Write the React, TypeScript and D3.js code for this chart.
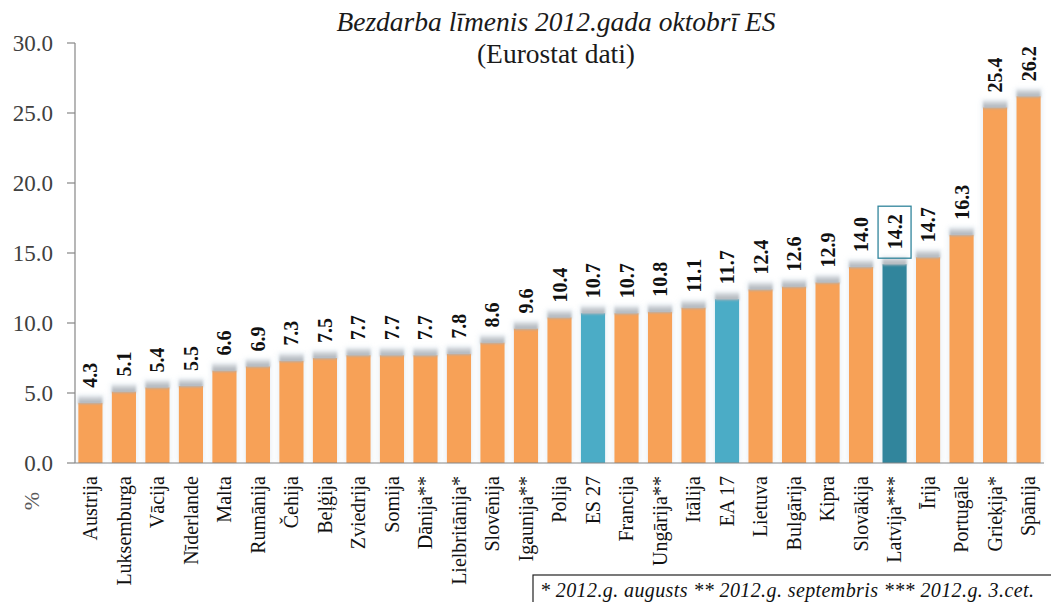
import React from "react";
import * as d3 from "d3";

const categories = [
  "Austrija", "Luksemburga", "Vācija", "Nīderlande", "Malta", "Rumānija", "Čehija",
  "Beļģija", "Zviedrija", "Somija", "Dānija**", "Lielbritānija*", "Slovēnija",
  "Igaunija**", "Polija", "ES 27", "Francija", "Ungārija**", "Itālija", "EA 17",
  "Lietuva", "Bulgārija", "Kipra", "Slovākija", "Latvija***", "Īrija", "Portugāle",
  "Grieķija*", "Spānija",
];
const values = [
  4.3, 5.1, 5.4, 5.5, 6.6, 6.9, 7.3, 7.5, 7.7, 7.7, 7.7, 7.8, 8.6, 9.6, 10.4, 10.7,
  10.7, 10.8, 11.1, 11.7, 12.4, 12.6, 12.9, 14.0, 14.2, 14.7, 16.3, 25.4, 26.2,
];
const euAggregates = ["ES 27", "EA 17"];
const highlighted = "Latvija***";
const yTicks = [0, 5, 10, 15, 20, 25, 30];
const titleLine1 = "Bezdarba līmenis 2012.gada oktobrī ES";
const titleLine2 = "(Eurostat dati)";
const footnote = "* 2012.g. augusts ** 2012.g. septembris *** 2012.g. 3.cet.";
const yUnit = "%";

const W = 1051;
const H = 602;
const FONT = "Times New Roman, Liberation Serif, DejaVu Serif, serif";

export default function App() {
  const x = d3
    .scaleBand<string>()
    .domain(categories)
    .range([75, 1044])
    .paddingInner(0.28)
    .paddingOuter(0.1);
  const y = d3.scaleLinear().domain([0, 30]).range([463, 43]);
  const bw = x.bandwidth();

  const colorOf = (c: string) =>
    c === highlighted ? "#31859C" : euAggregates.includes(c) ? "#4BACC6" : "#F7A157";

  return (
    <svg
      width={W}
      height={H}
      style={{ position: "absolute", left: 0, top: 0, background: "#fff", fontFamily: FONT }}
    >
      <defs>
        <linearGradient id="cap" x1="0" y1="0" x2="0" y2="1">
          <stop offset="0" stopColor="#e9ecef" stopOpacity="0" />
          <stop offset="0.45" stopColor="#c9cdd2" stopOpacity="0.9" />
          <stop offset="1" stopColor="#a7adb3" stopOpacity="1" />
        </linearGradient>
        <filter id="soft" x="-30%" y="-30%" width="160%" height="160%">
          <feGaussianBlur stdDeviation="1.2" />
        </filter>
        <filter id="halo" x="-30%" y="-10%" width="160%" height="120%">
          <feGaussianBlur stdDeviation="2.5" />
        </filter>
      </defs>

      {/* Title */}
      <text x={556} y={31} textAnchor="middle" fontStyle="italic" fontSize={27.5} fill="#1a1a1a">
        {titleLine1}
      </text>
      <text x={556} y={63} textAnchor="middle" fontSize={27.5} fill="#1a1a1a">
        {titleLine2}
      </text>

      {/* Bars */}
      {categories.map((c, i) => {
        const v = values[i];
        const x0 = x(c)!;
        const top = y(v);
        return (
          <g key={c}>
            <rect
              x={x0 - 2}
              y={top - 8}
              width={bw + 4}
              height={y(0) - top + 8}
              fill="#dfe9f1"
              opacity={0.6}
              filter="url(#halo)"
            />
            <rect x={x0} y={top} width={bw} height={y(0) - top} fill={colorOf(c)} />
            <rect x={x0} y={top - 9} width={bw} height={10} fill="url(#cap)" filter="url(#soft)" />
          </g>
        );
      })}

      {/* Axes */}
      <line x1={75} x2={75} y1={y(30)} y2={y(0)} stroke="#868686" strokeWidth={1.2} />
      <line x1={75} x2={1044} y1={y(0)} y2={y(0)} stroke="#868686" strokeWidth={1.2} />
      {yTicks.map((t) => (
        <g key={t}>
          <line x1={67} x2={75} y1={y(t)} y2={y(t)} stroke="#868686" strokeWidth={1.2} />
          <text x={53} y={y(t)} dy="0.35em" textAnchor="end" fontSize={23} fill="#404040">
            {d3.format(".1f")(t)}
          </text>
        </g>
      ))}

      {/* Unit label */}
      <text
        transform={`translate(31,501) rotate(-90)`}
        textAnchor="middle"
        dy="0.35em"
        fontSize={22}
        fill="#595959"
      >
        {yUnit}
      </text>

      {/* Category labels */}
      {categories.map((c) => {
        const cx = x(c)! + bw / 2;
        return (
          <text
            key={c}
            transform={`translate(${cx},476) rotate(-90)`}
            textAnchor="end"
            dy="0.33em"
            fontSize={20}
            fill="#111"
          >
            {c}
          </text>
        );
      })}

      {/* Value labels */}
      {categories.map((c, i) => {
        const v = values[i];
        const cx = x(c)! + bw / 2;
        const start = y(v) - 15;
        const label = d3.format(".1f")(v);
        const len = 35;
        return (
          <g key={c}>
            {c === highlighted && (
              <rect
                x={cx - 16.5}
                y={start - len - 8}
                width={33}
                height={len + 17}
                fill="none"
                stroke="#31859C"
                strokeWidth={1.3}
              />
            )}
            <text
              transform={`translate(${cx},${start}) rotate(-90)`}
              textAnchor="start"
              dy="0.35em"
              fontWeight="bold"
              fontSize={20}
              fill="#111"
            >
              {label}
            </text>
          </g>
        );
      })}

      {/* Footnote */}
      <rect x={533} y={575} width={530} height={40} fill="#fff" stroke="#222" strokeWidth={1.2} />
      <text x={540} y={597} fontStyle="italic" fontSize={20} letterSpacing={0.4} fill="#111">
        {footnote}
      </text>
    </svg>
  );
}
